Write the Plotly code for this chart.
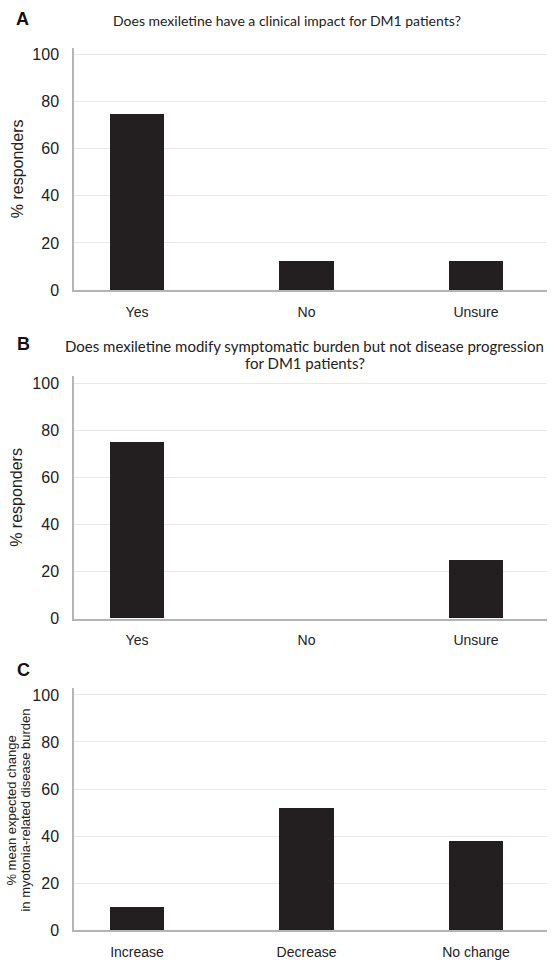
import plotly.graph_objects as go

# Survey responses (percent of responders)
cats_ab = ["Yes", "No", "Unsure"]
impact_pct = [75, 12.5, 12.5]
symptom_pct = [75, 0, 25]

cats_c = ["Increase", "Decrease", "No change"]
burden_change_pct = [10, 52, 38]

y_ticks = [0, 20, 40, 60, 80, 100]

W, H = 556, 969
BAR = "#231f20"
GRID = "#e8e8e8"
AXIS = "#b4b4b4"
TICK_FONT = dict(family="Liberation Sans, Arial, sans-serif", size=16, color="#222")
XTICK_FONT = dict(family="Liberation Sans, Arial, sans-serif", size=14, color="#222")
TITLE_A_FONT = dict(family="Lato, sans-serif", size=14, color="#222")
TITLE_B_FONT = dict(family="Lato, sans-serif", size=15, color="#222")


def px_x(v):
    return v / W


def px_y(v):
    return 1 - v / H


x_dom = [px_x(74), px_x(547)]
# vertical extents of each panel's plot area (top, bottom) in pixels
panels = [(47, 292), (379, 624), (694, 939)]

fig = go.Figure()
series = [(cats_ab, impact_pct), (cats_ab, symptom_pct), (cats_c, burden_change_pct)]
for i, (cats, vals) in enumerate(series):
    sfx = "" if i == 0 else str(i + 1)
    fig.add_trace(go.Bar(
        x=cats, y=vals, width=0.32,
        marker=dict(color=BAR, line=dict(width=0)),
        xaxis="x" + sfx, yaxis="y" + sfx, showlegend=False,
        hoverinfo="x+y",
    ))
    top, bot = panels[i]
    fig.layout["xaxis" + sfx] = dict(
        domain=x_dom, anchor="y" + sfx, type="category",
        range=[-0.372, 2.419], showgrid=False, zeroline=False,
        showline=True, linecolor=AXIS, linewidth=1.5,
        ticks="", tickfont=XTICK_FONT, ticklabelstandoff=8,
        fixedrange=True,
    )
    fig.layout["yaxis" + sfx] = dict(
        domain=[px_y(bot), px_y(top)], anchor="x" + sfx,
        range=[0, 103], tickvals=y_ticks, showgrid=True, gridcolor=GRID,
        gridwidth=1.2, zeroline=False, showline=True, linecolor=AXIS,
        linewidth=1.5, ticks="", tickfont=TICK_FONT, ticklabelstandoff=10,
        fixedrange=True,
    )

annotations = []


def note(text, x, y, font, xanchor="center", yanchor="middle", angle=0):
    annotations.append(dict(
        text=text, x=px_x(x), y=px_y(y), xref="paper", yref="paper",
        xanchor=xanchor, yanchor=yanchor, showarrow=False, font=font,
        textangle=angle,
    ))


label_font = dict(family="Liberation Sans, Arial, sans-serif", size=18, color="#111")
note("<b>A</b>", 14, 18, label_font, xanchor="left")
note("<b>B</b>", 15, 347, label_font, xanchor="left")
note("<b>C</b>", 15, 676, label_font, xanchor="left")

note("Does mexiletine have a clinical impact for DM1 patients?", 287, 20,
     TITLE_A_FONT)
note("Does mexiletine modify symptomatic burden but not disease progression", 304, 349,
     TITLE_B_FONT)
note("for DM1 patients?", 305, 366, TITLE_B_FONT)

ytitle_font = dict(family="Liberation Sans, Arial, sans-serif", size=16, color="#222")
note("% responders", 17, 170, ytitle_font, angle=-90)
note("% responders", 17, 502, ytitle_font, angle=-90)
ytitle_c = dict(family="Liberation Sans, Arial, sans-serif", size=13, color="#222")
note("% mean expected change", 12, 818, ytitle_c, angle=-90)
note("in myotonia-related disease burden", 26, 818, ytitle_c, angle=-90)

fig.update_layout(
    width=W, height=H,
    margin=dict(l=0, r=0, t=0, b=0),
    paper_bgcolor="white", plot_bgcolor="white",
    annotations=annotations, bargap=0,
)

fig.write_html("out.html", config={"displayModeBar": False})
